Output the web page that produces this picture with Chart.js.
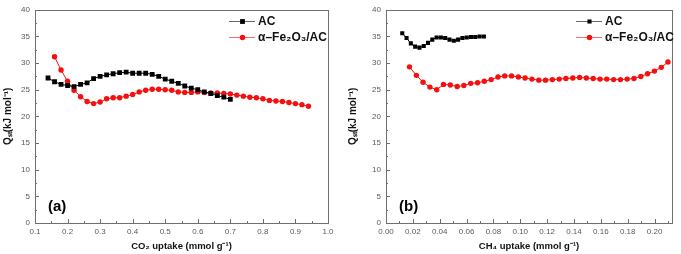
<!DOCTYPE html>
<html>
<head>
<meta charset="utf-8">
<script src="https://cdn.jsdelivr.net/npm/chart.js@4.4.1/dist/chart.umd.min.js"></script>
<style>
  body { margin: 0; background: #fff; }
  .wrap { display: flex; width: 681px; height: 254px; }
  canvas { display: block; }
</style>
</head>
<body>
<div class="wrap">
  <canvas id="chart-a" width="340" height="254"></canvas>
  <canvas id="chart-b" width="341" height="254"></canvas>
</div>
<script>
// (a) CO2 isosteric heat
const co2UptakeAC = [0.14, 0.16, 0.18, 0.20, 0.22, 0.24, 0.26, 0.28, 0.30, 0.32, 0.34, 0.36, 0.38, 0.40, 0.42,
  0.44, 0.46, 0.48, 0.50, 0.52, 0.54, 0.56, 0.58, 0.60, 0.62, 0.64, 0.66, 0.68, 0.70];
const co2QstAC = [27.2, 26.5, 26.0, 25.8, 25.6, 26.0, 26.3, 27.1, 27.5, 27.8, 28.0, 28.2, 28.3, 28.1, 28.1,
  28.1, 27.9, 27.5, 27.0, 26.6, 26.2, 25.7, 25.3, 25.0, 24.6, 24.3, 23.9, 23.6, 23.2];
const co2UptakeFe = [0.16, 0.18, 0.20, 0.22, 0.24, 0.26, 0.28, 0.30, 0.32, 0.34, 0.36, 0.38, 0.40, 0.42, 0.44,
  0.46, 0.48, 0.50, 0.52, 0.54, 0.56, 0.58, 0.60, 0.62, 0.64, 0.66, 0.68, 0.70, 0.72, 0.74,
  0.76, 0.78, 0.80, 0.82, 0.84, 0.86, 0.88, 0.90, 0.92, 0.94];
const co2QstFe = [31.2, 28.7, 26.6, 24.9, 23.7, 22.8, 22.4, 22.7, 23.3, 23.5, 23.5, 23.8, 24.1, 24.6, 24.9,
  25.1, 25.1, 25.0, 24.9, 24.6, 24.5, 24.5, 24.6, 24.5, 24.4, 24.4, 24.3, 24.2, 24.0, 23.8,
  23.6, 23.5, 23.3, 23.0, 22.9, 22.8, 22.6, 22.4, 22.2, 21.9];

// (b) CH4 isosteric heat
const ch4UptakeAC = [0.0121, 0.0153, 0.0185, 0.0217, 0.0249, 0.0281, 0.0313, 0.0345, 0.0377, 0.0409,
  0.0441, 0.0473, 0.0505, 0.0537, 0.0569, 0.0601, 0.0633, 0.0665, 0.0697, 0.0729];
const ch4QstAC = [35.6, 34.7, 33.7, 33.1, 32.9, 33.2, 33.8, 34.4, 34.8, 34.8,
  34.7, 34.4, 34.2, 34.4, 34.7, 34.8, 34.9, 34.9, 35.0, 35.0];
const ch4UptakeFe = [0.0175, 0.0226, 0.0276, 0.0327, 0.0378, 0.0428, 0.0479, 0.0530, 0.0580, 0.0631,
  0.0682, 0.0732, 0.0783, 0.0834, 0.0884, 0.0935, 0.0986, 0.1036, 0.1087, 0.1138,
  0.1188, 0.1239, 0.1290, 0.1340, 0.1391, 0.1442, 0.1492, 0.1543, 0.1594, 0.1644,
  0.1695, 0.1746, 0.1796, 0.1847, 0.1898, 0.1948, 0.1999, 0.2050, 0.2100];
const ch4QstFe = [29.3, 27.7, 26.4, 25.5, 25.0, 26.0, 25.9, 25.6, 25.8, 26.2,
  26.3, 26.6, 26.9, 27.4, 27.6, 27.6, 27.4, 27.2, 27.0, 26.8,
  26.8, 26.9, 27.0, 27.1, 27.2, 27.3, 27.2, 27.1, 27.0, 27.0,
  26.9, 26.9, 27.0, 27.1, 27.5, 28.0, 28.5, 29.2, 30.2];

const seriesLabels = ['AC', 'α–Fe₂O₃/AC'];
const yTitle = 'Qₛₜ(kJ mol⁻¹)';

const FONT = '"Liberation Sans", Arial, sans-serif';

function pairs(xs, ys) {
  return xs.map((x, i) => ({ x: x, y: ys[i] }));
}

// frame around the plot + inward major/minor ticks on bottom and left
const frameTicks = {
  id: 'frameTicks',
  beforeDatasetsDraw(chart) {
    const { ctx, chartArea: a, scales } = chart;
    ctx.save();
    ctx.strokeStyle = '#6f6f6f';
    ctx.lineWidth = 1;
    ctx.strokeRect(Math.round(a.left) + 0.5, Math.round(a.top) + 0.5,
      Math.round(a.right - a.left), Math.round(a.bottom - a.top));
    ctx.beginPath();
    ['x', 'y'].forEach(id => {
      const s = scales[id];
      const t = s.ticks;
      const step = t.length > 1 ? t[1].value - t[0].value : 0;
      const mark = (v, len) => {
        const p = Math.round(s.getPixelForValue(v)) + 0.5;
        if (id === 'x') { ctx.moveTo(p, a.bottom); ctx.lineTo(p, a.bottom - len); }
        else { ctx.moveTo(a.left, p); ctx.lineTo(a.left + len, p); }
      };
      t.forEach(tk => {
        mark(tk.value, 4);
        const m = tk.value + step / 2;
        if (m <= s.max + 1e-9) mark(m, 2);
      });
    });
    ctx.stroke();
    ctx.restore();
  }
};

// legend drawn inside the plot: line sample with marker, then label
const innerLegend = {
  id: 'innerLegend',
  afterDatasetsDraw(chart, args, opts) {
    const { ctx } = chart;
    ctx.save();
    chart.data.datasets.forEach((ds, i) => {
      const y = opts.y + i * opts.gap;
      ctx.strokeStyle = ds.borderColor;
      ctx.globalAlpha = 0.6;
      ctx.lineWidth = 1;
      ctx.beginPath();
      ctx.moveTo(opts.x, y + 0.5);
      ctx.lineTo(opts.x + 26, y + 0.5);
      ctx.stroke();
      ctx.globalAlpha = 1;
      ctx.fillStyle = ds.backgroundColor;
      Chart.helpers.drawPoint(ctx, {
        pointStyle: ds.pointStyle, radius: ds.pointRadius, rotation: 0, borderWidth: 0
      }, opts.x + 13.5, y + 0.5);
      ctx.fillStyle = '#111';
      ctx.font = 'bold 12px ' + FONT;
      ctx.textBaseline = 'middle';
      ctx.textAlign = 'left';
      ctx.fillText(ds.label, opts.x + 29, y + 1);
    });
    ctx.restore();
  }
};

const panelLetter = {
  id: 'panelLetter',
  afterDatasetsDraw(chart, args, opts) {
    const { ctx, chartArea: a } = chart;
    ctx.save();
    ctx.fillStyle = '#000';
    ctx.font = 'bold 15px ' + FONT;
    ctx.textBaseline = 'middle';
    ctx.fillText(opts.text, a.left + opts.dx, a.bottom - opts.dy);
    ctx.restore();
  }
};

function makeChart(id, cfg) {
  return new Chart(document.getElementById(id), {
    type: 'scatter',
    data: {
      datasets: [{
        label: seriesLabels[0],
        data: pairs(cfg.acX, cfg.acY),
        showLine: true,
        borderColor: '#000',
        backgroundColor: '#000',
        borderWidth: 1,
        pointStyle: 'rect',
        pointRadius: cfg.acRadius,
        pointBorderWidth: 0,
        pointHoverRadius: cfg.acRadius
      }, {
        label: seriesLabels[1],
        data: pairs(cfg.feX, cfg.feY),
        showLine: true,
        borderColor: '#f50f0f',
        backgroundColor: '#f50f0f',
        borderWidth: 1,
        pointStyle: 'circle',
        pointRadius: 2.7,
        pointBorderWidth: 0,
        pointHoverRadius: 2.7
      }]
    },
    options: {
      responsive: false,
      animation: false,
      events: [],
      layout: { padding: { top: 6, right: cfg.padRight, left: 0, bottom: 0 } },
      plugins: {
        legend: { display: false },
        tooltip: { enabled: false },
        innerLegend: { x: cfg.legendX, y: 21, gap: 16 },
        panelLetter: { text: cfg.letter, dx: 13, dy: 16 }
      },
      scales: {
        x: {
          type: 'linear',
          min: cfg.xMin,
          max: cfg.xMax,
          grid: { display: false, drawTicks: false },
          border: { display: false },
          ticks: {
            stepSize: cfg.xStep,
            includeBounds: false,
            padding: 4,
            color: '#5a5a5a',
            font: { family: FONT, size: 8 },
            callback: v => v.toFixed(cfg.xDigits)
          },
          title: {
            display: true,
            text: cfg.xTitle,
            color: '#111',
            font: { family: FONT, size: 9.5, weight: 'bold' },
            padding: { top: 0, bottom: 2 }
          },
          afterFit: s => { s.height = 31; }
        },
        y: {
          min: 0,
          max: 40,
          grid: { display: false, drawTicks: false },
          border: { display: false },
          ticks: {
            stepSize: 5,
            padding: 5,
            color: '#5a5a5a',
            font: { family: FONT, size: 8 }
          },
          title: {
            display: true,
            text: yTitle,
            color: '#111',
            font: { family: FONT, size: 10, weight: 'bold' },
            padding: { top: cfg.yTitlePad, bottom: 0 }
          },
          afterFit: s => { s.width = cfg.yWidth; }
        }
      }
    },
    plugins: [frameTicks, innerLegend, panelLetter]
  });
}

makeChart('chart-a', {
  acX: co2UptakeAC, acY: co2QstAC, feX: co2UptakeFe, feY: co2QstFe,
  acRadius: 3.4,
  xMin: 0.1, xMax: 1.0, xStep: 0.1, xDigits: 1,
  xTitle: 'CO₂ uptake (mmol g⁻¹)',
  padRight: 12, yWidth: 35, yTitlePad: 2,
  legendX: 229, letter: '(a)'
});

makeChart('chart-b', {
  acX: ch4UptakeAC, acY: ch4QstAC, feX: ch4UptakeFe, feY: ch4QstFe,
  acRadius: 2.9,
  xMin: 0, xMax: 0.213, xStep: 0.02, xDigits: 2,
  xTitle: 'CH₄ uptake (mmol g⁻¹)',
  padRight: 9, yWidth: 46, yTitlePad: 7,
  legendX: 236, letter: '(b)'
});
</script>
</body>
</html>
